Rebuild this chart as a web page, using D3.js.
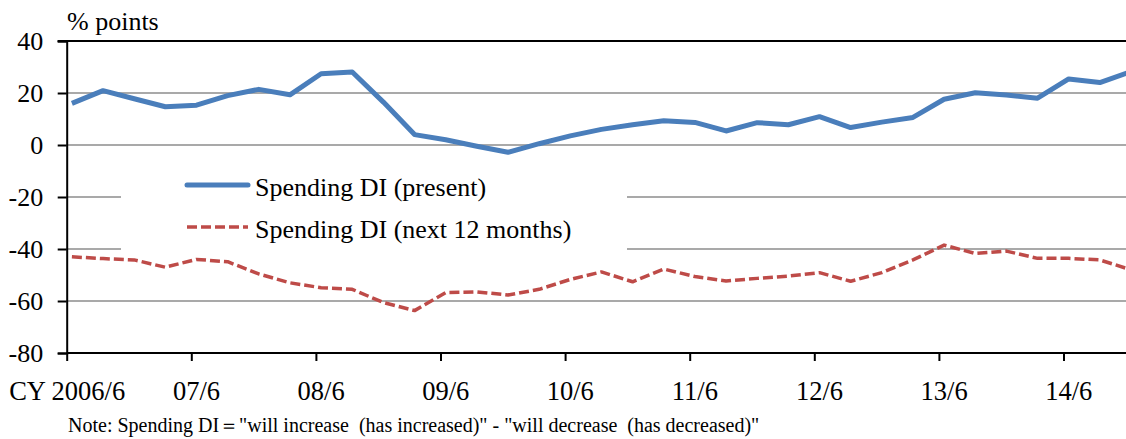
<!DOCTYPE html>
<html><head><meta charset="utf-8">
<script src="https://cdn.jsdelivr.net/npm/d3@7"></script>
<style>
html,body{margin:0;padding:0;background:#fff;}
svg{display:block;font-family:"Liberation Serif","Times New Roman",serif;}
</style></head>
<body><svg id="chart" width="1126" height="439"></svg>
<script>
// quarterly periods
const periods = ["2006/6","2006/9","2006/12","2007/3","2007/6","2007/9","2007/12","2008/3","2008/6","2008/9","2008/12","2009/3","2009/6","2009/9","2009/12","2010/3","2010/6","2010/9","2010/12","2011/3","2011/6","2011/9","2011/12","2012/3","2012/6","2012/9","2012/12","2013/3","2013/6","2013/9","2013/12","2014/3","2014/6","2014/9","2014/12"];
const presentDI = [16,20.9,17.8,14.7,15.3,19,21.4,19.3,27.4,28.1,16.5,4,2,-0.5,-2.8,0.5,3.5,6,7.8,9.3,8.7,5.4,8.6,7.8,10.9,6.7,8.8,10.6,17.6,20.1,19.2,18,25.4,24,28.2];
const nextDI = [-43,-43.7,-44.2,-47,-44,-44.9,-49.6,-53,-54.9,-55.5,-60.6,-63.7,-56.8,-56.5,-57.7,-55.5,-51.7,-48.8,-52.6,-47.7,-50.6,-52.3,-51.3,-50.4,-49.1,-52.4,-49.1,-44.2,-38.5,-41.7,-40.8,-43.6,-43.6,-44.2,-48];
const xTickLabels = ["CY 2006/6","07/6","08/6","09/6","10/6","11/6","12/6","13/6","14/6"];
const yTicks = [40,20,0,-20,-40,-60,-80];
const seriesNames = ["Spending DI (present)","Spending DI (next 12 months)"];
const noteText = "Note: Spending DI\uFF1D\"will increase  (has increased)\" - \"will decrease  (has decreased)\"";

function monthIndex(p){const [y,m]=p.split("/").map(Number);return (y-2006)*12+(m-6);}

const svg = d3.select("#chart");
const L = 66.7, T = 41, B = 353;
const monthW = 124.6/12;
const x = d3.scaleLinear().domain([0,104]).range([L, L+104*monthW]);
const y = d3.scaleLinear().domain([-80,40]).range([B,T]);

// gridlines
const grid = svg.append("g");
yTicks.filter(v=>v>-80 && v<40).forEach(v=>{
  grid.append("line").attr("x1",L).attr("x2",1126).attr("y1",y(v)).attr("y2",y(v))
    .attr("stroke","#8c8c8c").attr("stroke-width",1.5);
});
// top border
svg.append("line").attr("x1",L-9).attr("x2",1126).attr("y1",y(40)).attr("y2",y(40))
  .attr("stroke","#000").attr("stroke-width",2);

// y axis
const yAxis = d3.axisLeft(y).tickValues(yTicks).tickSize(9).tickPadding(14.5).tickFormat(d=>String(d));
const gy = svg.append("g").attr("transform",`translate(${L},0)`).call(yAxis)
  .attr("font-family","Liberation Serif").attr("font-size",26);
gy.select(".domain").attr("stroke","#000").attr("stroke-width",2);
gy.selectAll(".tick line").attr("stroke","#000").attr("stroke-width",2);
gy.selectAll(".tick text").attr("fill","#000").attr("dy","0.34em");

// x axis
const tickMonths = xTickLabels.map((d,i)=>i*12);
const xAxis = d3.axisBottom(x).tickValues(tickMonths).tickSize(8).tickFormat("");
const gx = svg.append("g").attr("transform",`translate(0,${B})`).call(xAxis);
gx.select(".domain").attr("stroke","#000").attr("stroke-width",2).attr("d",`M${L},0H${1140}`);
gx.selectAll(".tick line").attr("stroke","#000").attr("stroke-width",2);
svg.append("g").selectAll("text").data(xTickLabels).join("text")
  .attr("x",(d,i)=> i===0 ? x(0)+0.5 : x(i*12+0.5))
  .attr("y",400).attr("text-anchor","middle").attr("font-size",26.5).text(d=>d);

// legend background
svg.append("rect").attr("x",121).attr("y",160).attr("width",506).attr("height",94).attr("fill","#fff");

// lines
const line = d3.line().x((d,i)=>x(monthIndex(periods[i])+0.5)).y(d=>y(d));
svg.append("path").datum(presentDI).attr("d",line).attr("fill","none")
  .attr("stroke","#4a7ebb").attr("stroke-width",5).attr("stroke-linejoin","round");
svg.append("path").datum(nextDI).attr("d",line).attr("fill","none")
  .attr("stroke","#be4b48").attr("stroke-width",3.5).attr("stroke-dasharray","10,4").attr("stroke-linejoin","round");

// legend
svg.append("line").attr("x1",187).attr("x2",248).attr("y1",185).attr("y2",185)
  .attr("stroke","#4a7ebb").attr("stroke-width",5).attr("stroke-linecap","round");
svg.append("line").attr("x1",187).attr("x2",248).attr("y1",227).attr("y2",227)
  .attr("stroke","#be4b48").attr("stroke-width",3.5).attr("stroke-dasharray","10,4");
svg.append("text").attr("x",255).attr("y",195.5).attr("font-size",26).text(seriesNames[0]);
svg.append("text").attr("x",255).attr("y",238).attr("font-size",26).text(seriesNames[1]);

// unit label
svg.append("text").attr("x",67).attr("y",30).attr("font-size",26).text("% points");
// note
svg.append("text").attr("x",68).attr("y",431.5).attr("font-size",20).style("white-space","pre").text(noteText);
</script></body></html>
